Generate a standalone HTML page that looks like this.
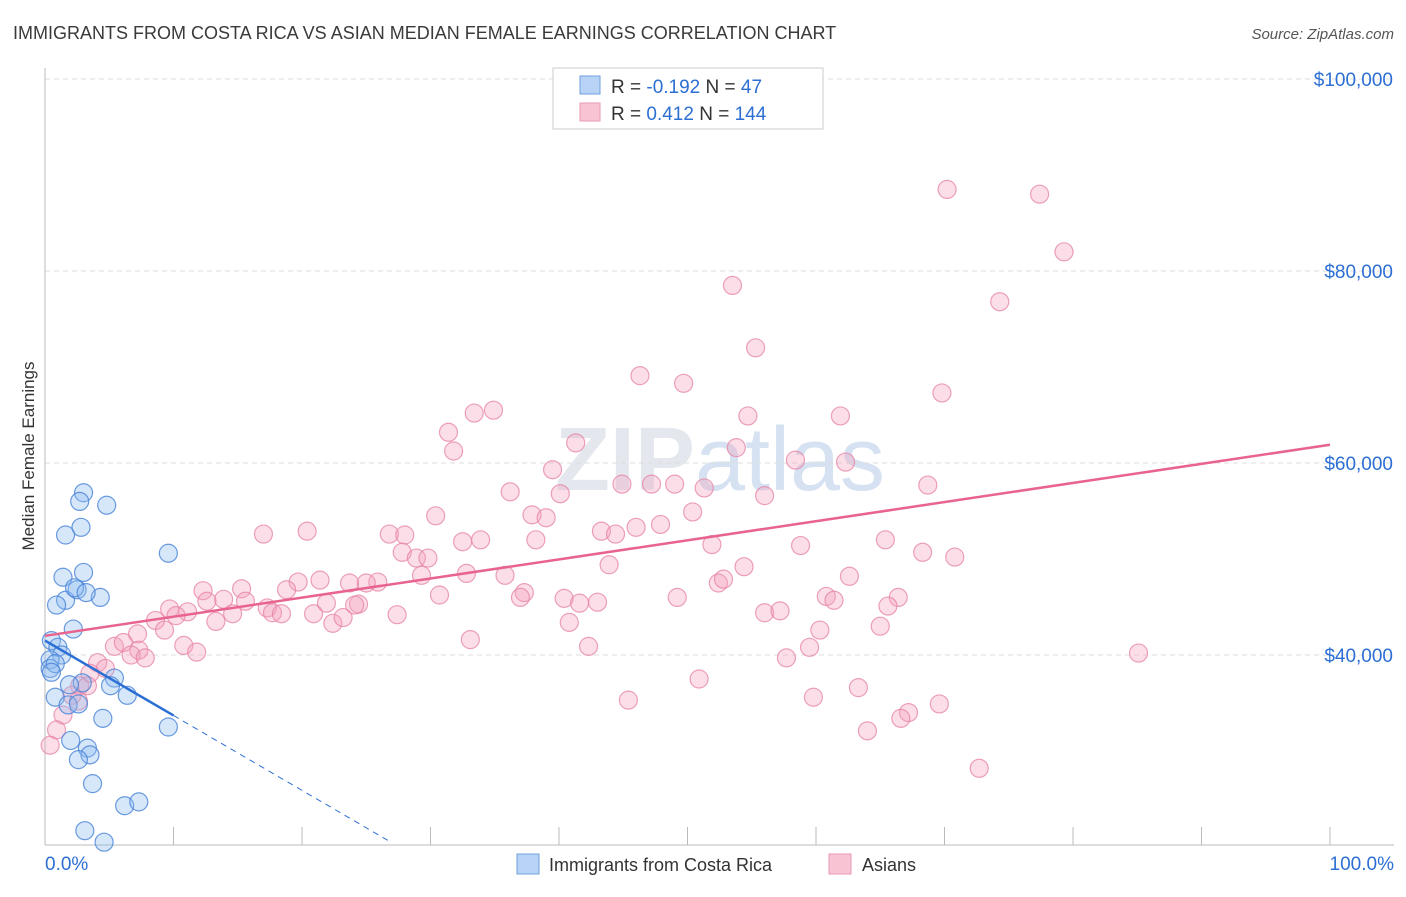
<!DOCTYPE html>
<html><head><meta charset="utf-8">
<style>
body{margin:0;background:#fff;font-family:"Liberation Sans",sans-serif;}
svg text{font-family:"Liberation Sans",sans-serif;}
</style></head>
<body>
<svg id="chart" width="1406" height="892" xmlns="http://www.w3.org/2000/svg">
<text x="13" y="39" font-size="18" fill="#3a3a3a">IMMIGRANTS FROM COSTA RICA VS ASIAN MEDIAN FEMALE EARNINGS CORRELATION CHART</text>
<text x="1394" y="39" font-size="15" fill="#555" text-anchor="end" font-style="italic">Source: ZipAtlas.com</text>
<text x="720" y="490" font-size="90" fill="#e4e8ee" text-anchor="middle" font-family="Liberation Serif"><tspan font-weight="bold">ZIP</tspan><tspan fill="#d6e2f2" font-family="Liberation Sans">atlas</tspan></text>
<g id="grid"></g>
<g id="axes"></g>
<text transform="translate(34,456) rotate(-90)" font-size="17" fill="#333" text-anchor="middle">Median Female Earnings</text>
<g id="pinkPts"></g>
<g id="bluePts"></g>
<g id="trends"></g>
<g>
<rect x="553" y="68" width="270" height="61" fill="#fff" stroke="#ccc"/>
<rect x="580" y="76" width="20" height="18" fill="#b8d3f5" stroke="#6fa0e0"/>
<rect x="580" y="103" width="20" height="18" fill="#f8c4d4" stroke="#e89ab2"/>
<text x="611" y="93" font-size="19" fill="#333">R = <tspan fill="#2c6fd4">-0.192</tspan>   N = <tspan fill="#2c6fd4">  47</tspan></text>
<text x="611" y="120" font-size="19" fill="#333">R =  <tspan fill="#2c6fd4">0.412</tspan>   N = <tspan fill="#2c6fd4">144</tspan></text>
</g>
<g>
<rect x="517" y="854" width="22" height="20" fill="#b8d3f5" stroke="#6fa0e0"/>
<text x="549" y="871" font-size="18" fill="#333">Immigrants from Costa Rica</text>
<rect x="829" y="854" width="22" height="20" fill="#f8c4d4" stroke="#e89ab2"/>
<text x="862" y="871" font-size="18" fill="#333">Asians</text>
</g>
</svg>
<script>
const blueX=[3.0,2.7,4.8,2.8,1.6,9.6,3.0,1.4,1.6,4.3,2.5,2.3,0.9,3.2,2.2,0.5,1.0,1.3,0.4,0.4,0.8,0.5,2.9,5.4,5.1,1.9,6.4,0.8,1.8,2.6,4.5,9.6,2.0,3.3,3.5,2.6,3.7,6.2,7.3,3.1,4.6];
const blueY=[56.9,56.0,55.6,53.3,52.5,50.6,48.6,48.1,45.7,46.0,46.8,47.0,45.2,46.5,42.7,41.5,40.8,40.0,39.5,38.6,39.1,38.2,37.1,37.6,36.8,36.9,35.8,35.6,34.8,34.9,33.4,32.5,31.1,30.3,29.6,29.1,26.6,24.3,24.7,21.7,20.5];
const pinkX=[70.2,77.4,79.3,53.5,74.3,55.3,46.3,49.7,69.8,34.9,33.4,54.7,61.9,31.4,31.8,41.3,53.8,58.4,62.3,39.5,68.7,36.2,40.1,44.9,47.2,49.0,51.3,56.0,30.4,37.9,39.0,50.4,46.0,47.9,17.0,20.4,26.8,28.0,43.3,44.4,32.5,33.9,38.2,65.4,51.9,58.8,68.3,70.8,27.8,28.9,29.8,43.9,54.4,25.9,25.0,23.7,21.4,19.7,18.8,15.3,12.3,29.3,32.8,35.8,52.4,52.8,62.6,30.7,37.3,37.0,40.4,41.6,43.0,49.2,60.8,61.4,66.4,65.6,13.9,15.6,12.6,11.1,9.7,10.2,8.6,9.3,7.2,13.3,14.6,17.3,17.7,18.4,20.9,22.4,23.2,24.4,21.9,24.1,27.4,40.8,56.0,57.2,60.3,65.0,5.4,6.1,7.3,6.7,7.8,10.8,11.8,4.1,4.7,33.1,42.3,59.5,57.7,85.1,3.5,2.7,3.3,2.1,2.6,50.9,63.3,45.4,59.8,69.6,67.2,66.6,64.0,1.4,0.9,0.4,72.7];
const pinkY=[88.5,88.0,82.0,78.5,76.8,72.0,69.1,68.3,67.3,65.5,65.2,64.9,64.9,63.2,61.25,62.1,61.6,60.3,60.1,59.3,57.7,57.0,56.8,57.8,57.8,57.8,57.4,56.6,54.5,54.6,54.3,54.9,53.3,53.6,52.6,52.9,52.6,52.5,52.9,52.6,51.8,52.0,52.0,52.0,51.5,51.4,50.7,50.2,50.7,50.1,50.1,49.4,49.2,47.6,47.5,47.5,47.8,47.6,46.8,46.9,46.7,48.3,48.5,48.3,47.5,47.9,48.2,46.25,46.5,46.0,45.9,45.4,45.5,46.0,46.1,45.7,46.0,45.1,45.8,45.6,45.6,44.5,44.8,44.1,43.6,42.6,42.2,43.5,44.3,44.9,44.4,44.3,44.3,43.3,43.9,45.3,45.4,45.2,44.2,43.4,44.4,44.6,42.6,43.0,40.9,41.3,40.5,40.0,39.7,41.0,40.3,39.2,38.6,41.6,40.9,40.8,39.7,40.2,38.1,36.8,36.8,35.8,35.2,37.5,36.6,35.3,35.6,34.9,34.0,33.4,32.1,33.75,32.2,30.6,28.2];
const yTicks=[40,60,80,100];
const yTickLabels=["$40,000","$60,000","$80,000","$100,000"];
const blueTrend=[41.5,-0.78]; // intercept (k$), slope per %
const pinkTrend=[42.0,61.9]; // value at 0% and 100%
const NS="http://www.w3.org/2000/svg";
const X=v=>45+v*12.85;
const Y=v=>79+(100-v)*9.6;
function mk(tag,attrs,parent){const e=document.createElementNS(NS,tag);for(const k in attrs)e.setAttribute(k,attrs[k]);parent.appendChild(e);return e;}
const grid=document.getElementById('grid'),axes=document.getElementById('axes');
yTicks.forEach((t,i)=>{
 const l=mk('line',{x1:45,x2:1394,y1:Y(t),y2:Y(t),stroke:'#ddd','stroke-dasharray':'5,4'},grid);
 
 
 const tx=mk('text',{x:1393,y:Y(t)+7,'font-size':19,fill:'#2c6fd4','text-anchor':'end'},axes);
 tx.textContent=yTickLabels[i];
 
 
});
const topg=mk('line',{x1:45,x2:1394,y1:79,y2:79,stroke:'#ddd','stroke-dasharray':'5,4'},grid);


const ya=mk('line',{x1:45,x2:45,y1:68,y2:845,stroke:'#bbb'},axes);


const xa=mk('line',{x1:45,x2:1394,y1:845,y2:845,stroke:'#bbb'},axes);


for(let i=1;i<=10;i++){const t=mk('line',{x1:X(i*10),x2:X(i*10),y1:827,y2:845,stroke:'#bbb'},axes);
 
 }
const x0=mk('text',{x:45,y:870,'font-size':19,fill:'#2c6fd4'},axes);x0.textContent='0.0%';


const x1=mk('text',{x:1394,y:870,'font-size':19,fill:'#2c6fd4','text-anchor':'end'},axes);x1.textContent='100.0%';


const pg=document.getElementById('pinkPts');
pinkX.forEach((v,i)=>{const c=mk('circle',{cx:X(v),cy:Y(pinkY[i]),r:9,fill:'rgba(244,160,190,0.35)',stroke:'rgba(230,130,165,0.75)','stroke-width':1.2},pg);
 
 });
const bg=document.getElementById('bluePts');
blueX.forEach((v,i)=>{const c=mk('circle',{cx:X(v),cy:Y(blueY[i]),r:9,fill:'rgba(140,185,240,0.35)',stroke:'rgba(70,130,215,0.8)','stroke-width':1.2},bg);
 
 });
const tg=document.getElementById('trends');
const pt=mk('line',{x1:X(0),y1:Y(pinkTrend[0]),x2:X(100),y2:Y(pinkTrend[1]),stroke:'#e8638e','stroke-width':2.5},tg);


const bs=mk('line',{x1:X(0),y1:Y(blueTrend[0]),x2:X(10),y2:Y(blueTrend[0]+blueTrend[1]*10),stroke:'#2c6fd4','stroke-width':2.5},tg);


const bd=mk('line',{x1:X(10),y1:Y(blueTrend[0]+blueTrend[1]*10),x2:X(27),y2:Y(blueTrend[0]+blueTrend[1]*27),stroke:'#2c6fd4','stroke-width':1,'stroke-dasharray':'6,5'},tg);


</script>
</body></html>
